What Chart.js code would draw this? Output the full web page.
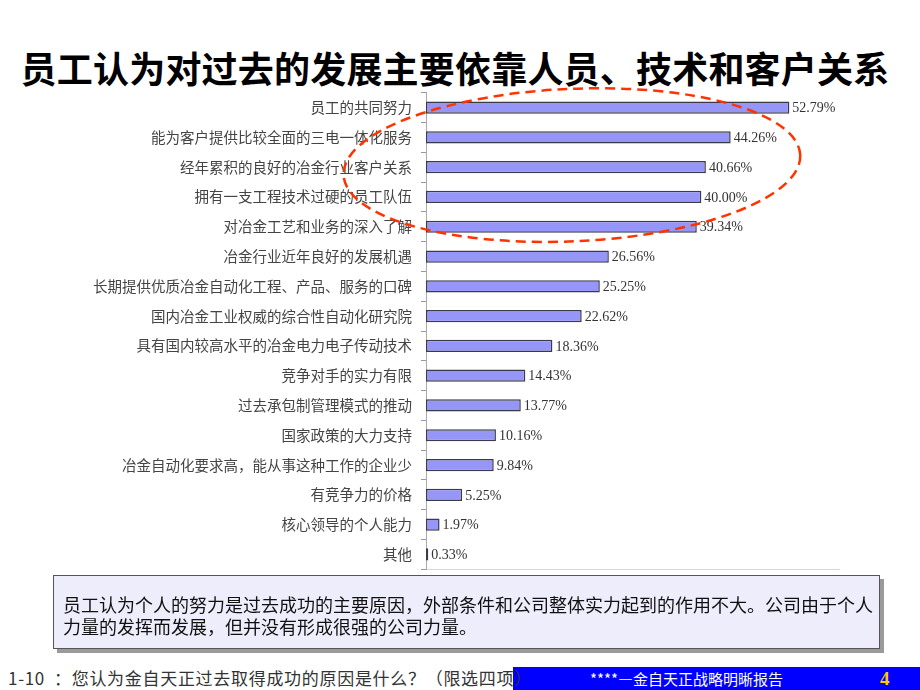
<!DOCTYPE html>
<html lang="zh">
<head>
  <meta charset="UTF-8">
  <title>员工认为对过去的发展主要依靠人员、技术和客户关系</title>
  <script src="https://cdn.jsdelivr.net/npm/chart.js"></script>
  <style>
    body { margin: 0; width: 920px; height: 690px; background: #fff; position: relative; overflow: hidden;
      font-family: "Noto Sans CJK SC", "Noto Sans", sans-serif; }
    .title { position: absolute; left: 0; width: 910px; top: 46px; text-align: center;
      font-size: 36px; font-weight: bold; line-height: 42px; color: #000; letter-spacing: 0.2px; }
    .chart-wrap { position: absolute; left: 0; top: 75px; width: 920px; height: 512px; }
    .note { position: absolute; left: 53px; top: 575px; width: 827px; height: 74px; background: #ededfb;
      border: 1px solid #555; box-shadow: 4px 4px 0 #9a9a9a; box-sizing: border-box;
      font-size: 18px; line-height: 22px; color: #111; padding: 17px 0 0 9px; }
    .blue { position: absolute; left: 513px; top: 667px; width: 407px; height: 23px; background: #0000ff; }
    .blue .rep { position: absolute; left: 77px; top: 1px; color: #fff; font-size: 15px; line-height: 22px; }
    .blue .pg { position: absolute; left: 367px; top: 0; color: #ffcc00; font-weight: bold;
      font-family: "Liberation Serif", serif; font-size: 19px; line-height: 23px; }
    .q { position: absolute; left: 8px; top: 666px; font-size: 17px; line-height: 23px; color: #333; z-index: 2;
      letter-spacing: 0.7px; white-space: pre; }
  </style>
</head>
<body>
  <div class="title">员工认为对过去的发展主要依靠人员、技术和客户关系</div>
  <div class="chart-wrap"><canvas id="bars" width="920" height="512"></canvas></div>
  <div class="note">员工认为个人的努力是过去成功的主要原因，外部条件和公司整体实力起到的作用不大。公司由于个人<br>力量的发挥而发展，但并没有形成很强的公司力量。</div>
  <div class="blue"><span class="rep">****—金自天正战略明晰报告</span><span class="pg">4</span></div>
  <div class="q">1-10  ：您认为金自天正过去取得成功的原因是什么？（限选四项）</div>

  <script>
    // categories, top to bottom
    const reasons = [
      '员工的共同努力',
      '能为客户提供比较全面的三电一体化服务',
      '经年累积的良好的冶金行业客户关系',
      '拥有一支工程技术过硬的员工队伍',
      '对冶金工艺和业务的深入了解',
      '冶金行业近年良好的发展机遇',
      '长期提供优质冶金自动化工程、产品、服务的口碑',
      '国内冶金工业权威的综合性自动化研究院',
      '具有国内较高水平的冶金电力电子传动技术',
      '竞争对手的实力有限',
      '过去承包制管理模式的推动',
      '国家政策的大力支持',
      '冶金自动化要求高，能从事这种工作的企业少',
      '有竞争力的价格',
      '核心领导的个人能力',
      '其他'
    ];
    const shares = [52.79, 44.26, 40.66, 40.00, 39.34, 26.56, 25.25, 22.62, 18.36, 14.43, 13.77, 10.16, 9.84, 5.25, 1.97, 0.33];

    // dashed red ring around the top five answers
    const ringPlugin = {
      id: 'ring',
      afterDatasetsDraw(chart) {
        const xs = chart.scales.x, ys = chart.scales.y, c = chart.ctx;
        const cx = xs.getPixelForValue(21.2);
        const rx = xs.getPixelForValue(54.4) - cx;
        const step = ys.getPixelForValue(1) - ys.getPixelForValue(0);
        const cy = ys.getPixelForValue(1.93);
        c.save();
        c.strokeStyle = '#ff3300';
        c.lineWidth = 2.5;
        c.setLineDash([10, 6]);
        c.beginPath();
        c.ellipse(cx, cy, rx, step * 2.56, -0.044, 0, Math.PI * 2);
        c.stroke();
        c.restore();
      }
    };

    const valuePlugin = {
      id: 'values',
      afterDatasetsDraw(chart) {
        const c = chart.ctx;
        c.save();
        c.font = '14px "Liberation Serif", serif';
        c.fillStyle = '#333';
        c.textBaseline = 'middle';
        chart.getDatasetMeta(0).data.forEach((bar, i) => {
          c.fillText(shares[i].toFixed(2) + '%', bar.x + 3, bar.y + 1);
        });
        c.restore();
      }
    };

    new Chart(document.getElementById('bars'), {
      type: 'bar',
      data: {
        labels: reasons,
        datasets: [{
          data: shares,
          backgroundColor: '#9696f8',
          borderColor: '#3a3a4a',
          borderWidth: 1.5,
          borderSkipped: false,
          barPercentage: 0.41,
          categoryPercentage: 1
        }]
      },
      options: {
        indexAxis: 'y',
        responsive: false,
        animation: false,
        layout: { padding: { top: 11, bottom: 5, right: 81 } },
        plugins: { legend: { display: false }, tooltip: { enabled: false } },
        scales: {
          x: {
            min: 0, max: 60,
            ticks: { display: false },
            grid: { display: false, drawTicks: false },
            border: { display: true, color: '#f3c6e6', dash: [2, 3] }
          },
          y: {
            afterFit: s => { s.width = 426; },
            ticks: { color: '#444', padding: 9, font: { size: 14.5, family: '"Noto Sans CJK SC", sans-serif' } },
            grid: { offset: true, drawOnChartArea: false, tickLength: 5, color: '#999' },
            border: { display: true, color: '#aaa', dash: [2, 2] }
          }
        }
      },
      plugins: [valuePlugin, ringPlugin]
    });
  </script>
</body>
</html>
